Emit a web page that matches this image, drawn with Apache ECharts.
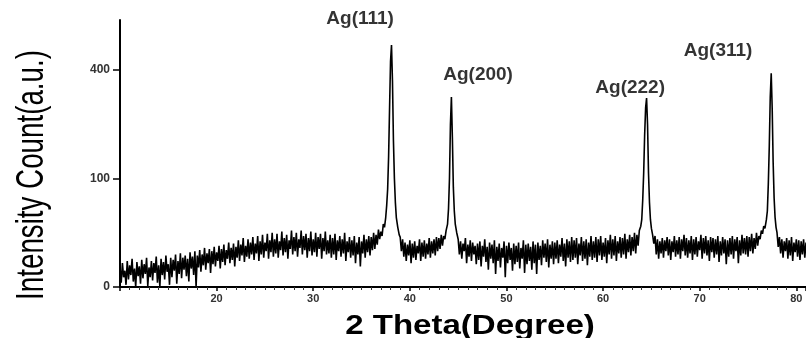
<!DOCTYPE html>
<html>
<head>
<meta charset="utf-8">
<script src="https://cdn.jsdelivr.net/npm/echarts@6/dist/echarts.min.js"></script>
<style>
  html, body { margin: 0; padding: 0; background: #fff; }
  #main { width: 806px; height: 338px; }
</style>
</head>
<body>
<div id="main"></div>
<script>
// XRD pattern read off the picture. Noisy background stretches are sampled
// every 0.125 deg (start + counts), peaks are given as [2theta, counts] pairs.
// counts are in axis units (tick "100" = 100, tick "400" = 200).
const scanLow = {
  start: 10.0, step: 0.125, counts: [
    18,4,22,9,15,2,24,7,20,11,26,5,17,0,23,10,
    19,3,25,8,21,12,27,1,18,9,24,6,22,13,28,4,
    20,0,26,11,23,7,29,14,21,2,27,9,25,15,30,3,
    24,12,31,8,27,16,29,10,26,5,32,17,28,11,33,0,
    29,18,34,14,30,20,36,16,31,22,35,13,33,21,37,19,
    32,24,38,17,35,23,39,20,34,26,41,22,36,25,40,19,
    37,27,43,24,39,29,45,23,38,28,44,26,41,30,46,25,
    40,31,47,24,42,30,48,27,41,33,49,26,43,32,50,28,
    44,31,49,27,42,34,51,29,45,32,48,26,43,35,52,30,
    46,33,50,28,44,36,52,30,47,34,49,27,45,33,51,29,
    44,32,50,28,46,35,49,26,45,33,51,30,43,31,48,27,
    45,30,49,25,43,33,47,28,44,31,50,24,42,32,46,27,
    43,29,47,22,41,30,46,19,42,31,48,27,44,32,47,29,
    46,34,50,35,48,39,53,44,51,47,58,55
  ]
};
const peak111 = [
  [37.5,64],[37.6,75],[37.7,90],[37.8,120],[37.9,165],[38.0,208],[38.1,223],
  [38.2,190],[38.3,135],[38.4,100],[38.5,78],[38.6,64],[38.75,55],[38.9,48],[39.0,46]
];
const scanMid1 = {
  start: 39.125, step: 0.125, counts: [
    33,44,28,41,24,39,29,43,
    22,40,27,42,25,38,31,44,
    24,41,28,43,26,40,30,45,
    27,42,31,44,29,46,33,45,
    35,48,38,47,44,52
  ]
};
const peak200 = [
  [43.9,58],[44.0,72],[44.1,100],[44.2,150],[44.3,175],[44.4,138],[44.5,92],
  [44.6,70],[44.7,58],[44.85,50]
];
const scanMid2 = {
  start: 45.0, step: 0.125, counts: [
    44,30,42,26,40,33,45,22,39,28,43,24,41,30,38,21,
    40,25,42,19,38,28,44,23,37,16,41,26,39,22,43,12,
    37,24,40,18,36,27,42,9,38,22,41,25,36,15,40,21,
    38,23,41,17,36,26,43,13,39,21,40,24,37,16,42,22,
    39,12,41,25,38,20,43,27,40,23,44,18,39,26,42,21,
    41,26,43,22,39,28,45,24,40,19,44,27,42,23,46,25,
    43,27,45,21,40,29,46,24,42,26,44,20,41,28,47,25,
    42,27,46,23,44,29,47,25,41,28,45,22,43,30,48,26,
    44,29,47,24,42,31,46,27,45,30,49,26,44,32,48,29,
    46,33,50,31,48,38,52
  ]
};
const peak222 = [
  [63.9,56],[64.0,62],[64.1,80],[64.2,105],[64.3,140],[64.4,165],[64.5,174],
  [64.6,150],[64.7,105],[64.8,78],[64.9,62],[65.0,54],[65.125,48]
];
const scanMid3 = {
  start: 65.25, step: 0.125, counts: [
    40,47,30,44,26,42,31,45,27,43,33,46,
    29,44,25,42,32,47,28,43,30,46,26,44,33,48,29,45,
    27,43,31,47,25,44,30,46,28,42,34,48,26,45,31,47,
    29,43,24,46,32,45,27,44,30,47,23,42,29,46,31,44,
    21,43,28,45,30,47,26,44,33,46,22,43,29,48,31,45,
    30,47,28,46,33,49,31,45,35,50,38,47,44,52,49,56,54
  ]
};
const peak311 = [
  [76.9,62],[77.0,70],[77.1,95],[77.2,130],[77.3,175],[77.4,197],[77.5,165],
  [77.6,115],[77.7,82],[77.8,64],[77.9,55],[78.0,50]
];
const scanHigh = {
  start: 78.125, step: 0.125, counts: [
    37,46,31,44,27,42,33,45,
    26,43,29,46,24,41,32,44,
    28,43,25,42,30,44,27,41
  ]
};

// peak labels [2theta, counts, text]
const peakLabels = [
  [34.85, 247, "Ag(111)"],
  [47.06, 196, "Ag(200)"],
  [62.8, 184, "Ag(222)"],
  [71.9, 218, "Ag(311)"]
];

const xTickValues = [20, 30, 40, 50, 60, 70, 80];
const yTickLabels = ["0", "100", "400"];

// 展开等间距的扫描段
const expandScan = (seg) => seg.counts.map((c, i) => [seg.start + i * seg.step, c]);

const pattern = [].concat(
  expandScan(scanLow), peak111, expandScan(scanMid1), peak200,
  expandScan(scanMid2), peak222, expandScan(scanMid3), peak311, expandScan(scanHigh)
);

const chart = echarts.init(document.getElementById("main"));

chart.setOption({
  animation: false,
  backgroundColor: "#fff",
  grid: { left: 120, right: 0, top: 20, bottom: 51 },
  xAxis: {
    type: "value",
    min: 10,
    max: 81,
    interval: 10,
    axisLine: { lineStyle: { color: "#000", width: 2 } },
    axisTick: { show: true, length: 4, lineStyle: { color: "#000", width: 1.5 } },
    minorTick: { show: true, splitNumber: 10, length: 3, lineStyle: { color: "#333", width: 1 } },
    splitLine: { show: false },
    axisLabel: {
      margin: 6,
      fontFamily: "Liberation Sans",
      fontWeight: "bold",
      fontSize: 11,
      color: "#333",
      showMaxLabel: false,
      formatter: (v) => (xTickValues.includes(v) ? String(v) : "")
    }
  },
  yAxis: {
    type: "value",
    min: 0,
    max: 246,
    interval: 100,
    axisLine: { show: true, lineStyle: { color: "#000", width: 2 } },
    axisTick: { show: true, length: 7, lineStyle: { color: "#000", width: 1.5 } },
    splitLine: { show: false },
    axisLabel: {
      margin: 10,
      fontFamily: "Liberation Sans",
      fontWeight: "bold",
      fontSize: 12,
      color: "#333",
      showMaxLabel: false,
      formatter: (v) => yTickLabels[v / 100] || ""
    }
  },
  series: [
    {
      type: "line",
      data: pattern,
      showSymbol: false,
      sampling: "none",
      lineStyle: { color: "#000", width: 1.6 }
    },
    {
      type: "scatter",
      data: peakLabels,
      symbolSize: 0,
      clip: false,
      silent: true,
      label: {
        show: true,
        position: "inside",
        formatter: (p) => p.data[2],
        fontFamily: "Liberation Sans",
        fontWeight: "bold",
        fontSize: 19,
        color: "#000"
      }
    }
  ],
  graphic: [
    {
      type: "text",
      x: 33,
      y: 175,
      rotation: Math.PI / 2,
      scaleX: 0.73,
      style: {
        text: "Intensity Count(a.u.)",
        font: "38px 'Liberation Sans Narrow', 'Liberation Sans'",
        fill: "#000",
        textAlign: "center",
        textVerticalAlign: "middle"
      }
    },
    {
      type: "text",
      x: 470,
      y: 326,
      scaleX: 1.18,
      style: {
        text: "2 Theta(Degree)",
        font: "bold 28px 'Liberation Sans'",
        fill: "#000",
        textAlign: "center",
        textVerticalAlign: "middle"
      }
    }
  ]
});
</script>
</body>
</html>
